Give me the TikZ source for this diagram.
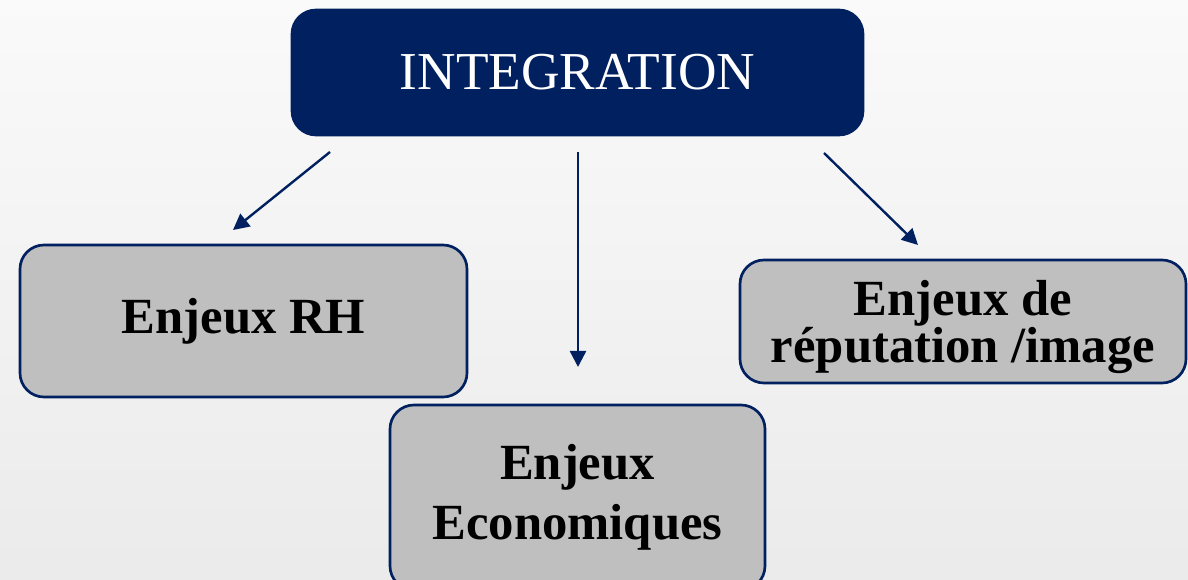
\documentclass[tikz,border=0pt]{standalone}
\usepackage{fontspec}
\setmainfont{Liberation Serif}
\usepackage{xcolor}
\usetikzlibrary{arrows.meta}

\definecolor{navy}{RGB}{0,32,96}
\definecolor{boxgray}{RGB}{191,191,191}

\begin{document}
\begin{tikzpicture}[x=0.75pt,y=-0.75pt,
    topbox/.style={draw=navy, fill=navy, line width=2pt, rounded corners=18pt,
        text=white, font=\fontsize{40}{44}\selectfont},
    issuebox/.style={draw=navy, fill=boxgray, line width=2pt, rounded corners=18pt,
        align=center, font=\bfseries\fontsize{38}{32}\selectfont},
    link/.style={navy, line width=1.8pt, -{Triangle[length=12pt,width=12pt]}}]
    \clip (0,0) rectangle (1188,580);
    \shade[top color=black!2, bottom color=black!8] (0,0) rectangle (1188,580);

    \node[topbox, minimum width=571*0.75pt, minimum height=125*0.75pt] (integ) at (577.5,72.5) {INTEGRATION};
    \node[issuebox, minimum width=447*0.75pt, minimum height=152*0.75pt] (rh) at (243.5,321) {Enjeux RH};
    \node[issuebox, minimum width=375*0.75pt, minimum height=185*0.75pt,
        font=\bfseries\fontsize{38}{45}\selectfont] (eco) at (577.5,497.5) {Enjeux\\Economiques};
    \node[issuebox, minimum width=446*0.75pt, minimum height=123*0.75pt, text depth=0pt] (rep) at (963,321.5) {Enjeux de\\réputation /image};

    % free arrow ends
    \coordinate (a1) at (330,152);
    \coordinate (b1) at (233,230);
    \coordinate (a2) at (578,152);
    \coordinate (b2) at (578,367);
    \coordinate (a3) at (824,153);
    \coordinate (b3) at (918,245);
    \draw[link] (a1) -- (b1);
    \draw[link] (a2) -- (b2);
    \draw[link] (a3) -- (b3);
\end{tikzpicture}
\end{document}
